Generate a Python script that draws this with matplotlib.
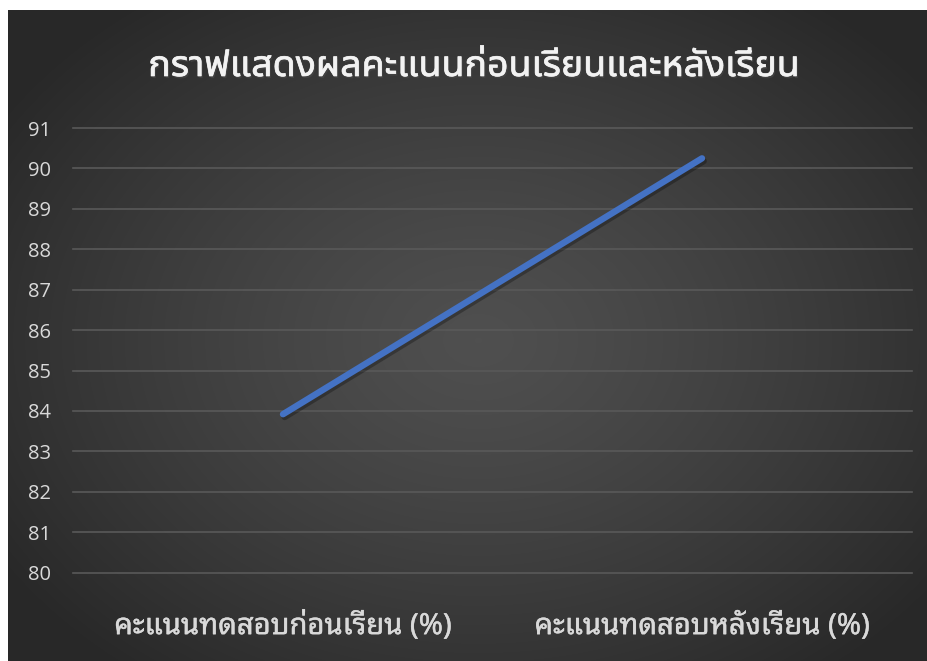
import numpy as np
import matplotlib
matplotlib.use("Agg")
import matplotlib.pyplot as plt
import matplotlib.patheffects as pe

# data
categories = ["คะแนนทดสอบก่อนเรียน (%)", "คะแนนทดสอบหลังเรียน (%)"]
scores = [83.92, 90.25]
yticks = list(range(80, 92))
title = "กราฟแสดงผลคะแนนก่อนเรียนและหลังเรียน"

W, H = 928, 661
fig = plt.figure(figsize=(W / 100, H / 100), dpi=100, facecolor="white")

# dark chart area with a soft radial gradient (white strip top/left like the screenshot)
bg = fig.add_axes([8 / W, 0, (W - 8) / W, (H - 10) / H])
bg.set_axis_off()
yy, xx = np.mgrid[0:651, 0:920]
cx, cy = 470, 330
r = np.sqrt(((xx - cx) / 560.0) ** 2 + ((yy - cy) / 420.0) ** 2)
r = np.clip(r, 0, 1)
shade = 0.31 - 0.15 * r ** 1.3
img = np.dstack([shade, shade, shade])
bg.imshow(img, aspect="auto", extent=[0, 1, 0, 1], interpolation="bilinear")
bg.set_xlim(0, 1)
bg.set_ylim(0, 1)

ax = fig.add_axes([73.5 / W, (H - 572.7) / H, 838 / W, (572.7 - 128) / H])
ax.patch.set_alpha(0)
x = np.arange(len(categories))
ax.plot(x, scores, color="#4472C4", lw=4.6, solid_capstyle="round", zorder=3,
        path_effects=[pe.SimpleLineShadow(offset=(1.2, -2.0), shadow_color="black", alpha=0.28),
                      pe.Normal()])
ax.set_xlim(-0.5, 1.5)
ax.set_ylim(80, 91)
ax.set_yticks(yticks)
ax.set_yticklabels([str(v) for v in yticks], family=["Open Sans", "DejaVu Sans"],
                   fontsize=14.5, color="#D9D9D9")
ax.set_xticks(x)
ax.set_xticklabels(categories, family=["Noto Sans Thai Looped", "DejaVu Sans"],
                   fontsize=21, color="#D9D9D9", fontweight="medium")
for lbl in ax.get_xticklabels():
    lbl.set_path_effects([pe.withStroke(linewidth=0.3, foreground="#D9D9D9")])
ax.tick_params(axis="y", length=0, pad=16)
ax.tick_params(axis="x", length=0, pad=28)
ax.grid(axis="y", color="#595959", lw=1.2)
for gl in ax.get_ygridlines():
    gl.set_clip_on(False)
ax.set_axisbelow(True)
for s in ax.spines.values():
    s.set_visible(False)

fig.text(474 / W, 1 - 66 / H, title, ha="center", va="center",
         family=["Noto Sans Thai UI", "DejaVu Sans"], fontsize=27, fontweight="semibold",
         color="#F2F2F2",
         path_effects=[pe.SimplePatchShadow(offset=(1, -1.5), alpha=0.6),
                       pe.withStroke(linewidth=0.5, foreground="#F2F2F2")])

fig.savefig("out.png", dpi=100, facecolor="white")
